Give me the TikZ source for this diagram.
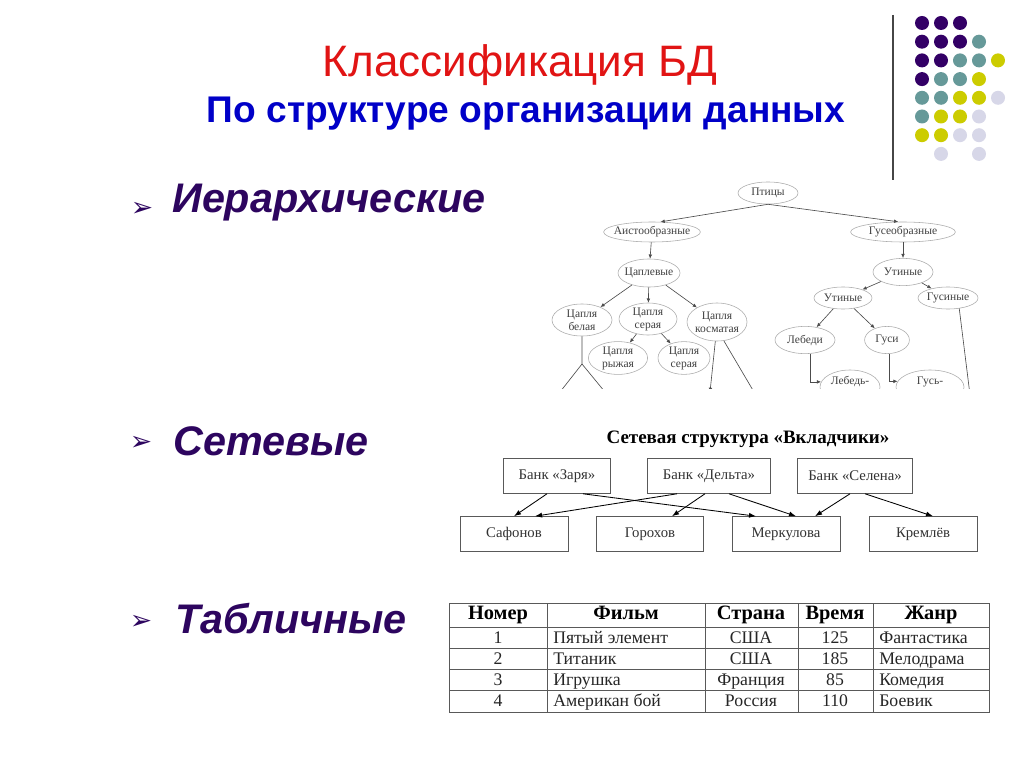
\documentclass[tikz,border=0pt]{standalone}
\usepackage{fontspec}
\setmainfont{Liberation Serif}
\newfontfamily\arialfont{Liberation Sans}
\newfontfamily\dejavufont{DejaVu Sans}
\usetikzlibrary{arrows.meta,positioning,shapes.geometric,calc}
\definecolor{titlered}{RGB}{225,20,20}
\definecolor{subblue}{RGB}{0,0,200}
\definecolor{itempurple}{RGB}{45,5,95}
\definecolor{dotpurple}{RGB}{51,0,102}
\definecolor{dotteal}{RGB}{102,153,153}
\definecolor{dotyellow}{RGB}{204,204,0}
\definecolor{dotlav}{RGB}{215,215,232}

\begin{document}
\begin{tikzpicture}[x=0.025cm,y=-0.025cm,
    birdnode/.style 2 args={ellipse,draw=gray!65,text=black!75,font=\fontsize{8.2}{9.2}\selectfont,
      inner xsep=-3pt,inner ysep=-1pt,align=center,minimum width=#1,minimum height=#2},
    treeline/.style={gray!60!black,line width=0.45pt},
    treearrow/.style={treeline,-{Latex[length=3pt,width=2.6pt]}},
    bankbox/.style={draw=black!65,rectangle,minimum height=0.875cm,minimum width=#1,
      font=\fontsize{10.5}{12}\selectfont,text=black!80},
    netarrow/.style={-{Latex[length=5pt,width=3.6pt]},line width=0.6pt},
    itemtext/.style={font=\arialfont\bfseries\itshape\fontsize{29.4}{33}\selectfont,
      text=itempurple,anchor=base west,inner sep=0pt},
    itembullet/.style={font=\dejavufont\fontsize{19}{19}\selectfont,text=itempurple,inner sep=0pt},
    tableline/.style={gray!70!black,line width=0.7pt},
    headcell/.style={font=\bfseries\fontsize{14.5}{15}\selectfont,inner sep=0pt,text height=10pt,text depth=3pt},
    bodycell/.style={font=\fontsize{12.6}{13}\selectfont,text=black!85,inner sep=0pt,text height=8.5pt,text depth=2.5pt}]
  \useasboundingbox[fill=white] (0,0) rectangle (1024,767);

  % Titles
  \node[font=\arialfont\fontsize{31.3}{34}\selectfont,text=titlered,anchor=base] (title) at (520,77) {Классификация БД};
  \node[font=\arialfont\bfseries\fontsize{26.4}{29}\selectfont,text=subblue,anchor=base] (subtitle) at (526,123) {По структуре организации данных};

  % Decoration: line and dots
  \draw[gray!55!black,line width=1pt] (893,15) -- (893,180);
  \foreach \c/\r in {1/1,2/1,3/1,1/2,2/2,3/2,1/3,2/3,1/4}
    \fill[dotpurple] ({922+19*(\c-1)},{23+18.7*(\r-1)}) circle (0.175cm);
  \foreach \c/\r in {4/2,3/3,4/3,2/4,3/4,1/5,2/5,1/6}
    \fill[dotteal] ({922+19*(\c-1)},{23+18.7*(\r-1)}) circle (0.175cm);
  \foreach \c/\r in {5/3,4/4,3/5,4/5,2/6,3/6,1/7,2/7}
    \fill[dotyellow] ({922+19*(\c-1)},{23+18.7*(\r-1)}) circle (0.175cm);
  \foreach \c/\r in {5/5,4/6,3/7,4/7,2/8,4/8}
    \fill[dotlav] ({922+19*(\c-1)},{23+18.7*(\r-1)}) circle (0.175cm);

  % Items
  \node[itembullet] (bul1) at (142,209) {➢};
  \node[itemtext] (hier) at (172,213) {Иерархические};
  \node[itembullet] (bul2) at (141,443) {➢};
  \node[itemtext] (netw) at (173,455) {Сетевые};
  \node[itembullet] (bul3) at (141,622) {➢};
  \node[itemtext] (tabl) at (175,633) {Табличные};

  % Hierarchical tree
  \begin{scope}
    \clip (530,170) rectangle (1000,388);
    \node[birdnode={1.5cm}{0.55cm}] (ptitsy) at (768,193) {Птицы};
    \node[birdnode={2.42cm}{0.5cm}] (aist) at (652,232) {Аистообразные};
    \node[birdnode={1.55cm}{0.7cm}] (tsapl) at (649,273) {Цаплевые};
    \node[birdnode={1.5cm}{0.8cm}] (belaya) at (582,320) {Цапля\\белая};
    \node[birdnode={1.45cm}{0.8cm}] (seraya) at (648,319) {Цапля\\серая};
    \node[birdnode={1.5cm}{0.95cm}] (kosm) at (717,322) {Цапля\\косматая};
    \node[birdnode={1.48cm}{0.82cm}] (ryzh) at (618,358) {Цапля\\рыжая};
    \node[birdnode={1.3cm}{0.82cm}] (seraya2) at (684,358) {Цапля\\серая};
    \node[birdnode={2.62cm}{0.5cm}] (gus) at (903,232) {Гусеобразные};
    \node[birdnode={1.5cm}{0.68cm}] (utin) at (903,272) {Утиные};
    \node[birdnode={1.45cm}{0.55cm}] (utin2) at (843,298) {Утиные};
    \node[birdnode={1.5cm}{0.55cm}] (gusin) at (948,298) {Гусиные};
    \node[birdnode={1.5cm}{0.68cm}] (lebedi) at (805,340) {Лебеди};
    \node[birdnode={1.12cm}{0.68cm}] (gusi) at (887,340) {Гуси};
    \node[birdnode={1.5cm}{0.85cm}] (lebsh) at (850,387) {Лебедь-\\~};
    \node[birdnode={1.7cm}{0.85cm}] (gussh) at (930,387) {Гусь-\\~};
    \coordinate (bel-knee) at (582,364);
    \coordinate (bel-l) at (560,392);
    \coordinate (bel-r) at (605,392);
    \coordinate (kosm-l) at (710,392);
    \coordinate (kosm-r) at (754,392);
    \coordinate (gusin-low) at (970,395);
    \draw[treearrow] (ptitsy.south) -- (aist.50);
    \draw[treearrow] (ptitsy.south) -- (gus.115);
    \draw[treearrow] (aist) -- (tsapl);
    \draw[treearrow] (tsapl) -- (belaya);
    \draw[treearrow] (tsapl) -- (seraya);
    \draw[treearrow] (tsapl) -- (kosm);
    \draw[treearrow] (seraya) -- (ryzh);
    \draw[treearrow] (seraya) -- (seraya2);
    \draw[treearrow] (gus) -- (utin);
    \draw[treearrow] (utin) -- (utin2);
    \draw[treearrow] (utin) -- (gusin);
    \draw[treearrow] (utin2) -- (lebedi);
    \draw[treearrow] (utin2) -- (gusi);
    \draw[treearrow] (lebedi.290) |- (lebsh.170);
    \draw[treearrow] (gusi.280) |- (gussh.170);
    \draw[treeline] (belaya.south) -- (bel-knee) -- (bel-l);
    \draw[treeline] (bel-knee) -- (bel-r);
    \draw[treearrow] (kosm.265) -- (kosm-l);
    \draw[treeline] (kosm.290) -- (kosm-r);
    \draw[treeline] (gusin.317) -- (gusin-low);
  \end{scope}

  % Network structure
  \node[font=\bfseries\fontsize{13.5}{15}\selectfont,anchor=base] (nettitle) at (748,443) {Сетевая структура «Вкладчики»};
  \node[bankbox=2.68cm] (zarya) at (557,476) {Банк «Заря»};
  \node[bankbox=3.08cm] (delta) at (709,476) {Банк «Дельта»};
  \node[bankbox=2.88cm] (selena) at (855,476) {Банк «Селена»};
  \node[bankbox=2.7cm] (safonov) at (514,534) {Сафонов};
  \node[bankbox=2.68cm] (gorokhov) at (650,534) {Горохов};
  \node[bankbox=2.7cm] (merkulova) at (786,534) {Меркулова};
  \node[bankbox=2.7cm] (kremlev) at (923,534) {Кремлёв};
  \draw[netarrow] ($(zarya.south)+(-10,0)$) -- (safonov.north);
  \draw[netarrow] ($(zarya.south)+(26,0)$) -- ($(merkulova.north)+(-30,0)$);
  \draw[netarrow] ($(delta.south)+(-32,0)$) -- ($(safonov.north)+(21,0)$);
  \draw[netarrow] ($(delta.south)+(-4,0)$) -- ($(gorokhov.north)+(22,0)$);
  \draw[netarrow] ($(delta.south)+(20,0)$) -- ($(merkulova.north)+(10,0)$);
  \draw[netarrow] ($(selena.south)+(-5,0)$) -- ($(merkulova.north)+(29,0)$);
  \draw[netarrow] ($(selena.south)+(10,0)$) -- ($(kremlev.north)+(10,0)$);

  % Table
  \draw[tableline] (449,603) rectangle (989,712);
  \foreach \y in {627,648,669,690}
    \draw[tableline] (449,\y) -- (989,\y);
  \foreach \x in {547,705,798,873}
    \draw[tableline] (\x,603) -- (\x,712);
  \node[headcell] (hnum) at (498,615) {Номер};
  \node[headcell] (hfilm) at (626,615) {Фильм};
  \node[headcell] (hcountry) at (751,615) {Страна};
  \node[headcell] (htime) at (835,615) {Время};
  \node[headcell] (hgenre) at (931,615) {Жанр};
  \foreach \r/\film/\country/\len/\genre in {1/Пятый элемент/США/125/Фантастика,
      2/Титаник/США/185/Мелодрама,3/Игрушка/Франция/85/Комедия,4/Американ бой/Россия/110/Боевик}{
    \node[bodycell] (num-\r) at (498,{639+21*(\r-1)}) {\r};
    \node[bodycell,anchor=west] (film-\r) at (553,{639+21*(\r-1)}) {\film};
    \node[bodycell] (country-\r) at (751,{639+21*(\r-1)}) {\country};
    \node[bodycell] (len-\r) at (835,{639+21*(\r-1)}) {\len};
    \node[bodycell,anchor=west] (genre-\r) at (879,{639+21*(\r-1)}) {\genre};
  }
\end{tikzpicture}
\end{document}
